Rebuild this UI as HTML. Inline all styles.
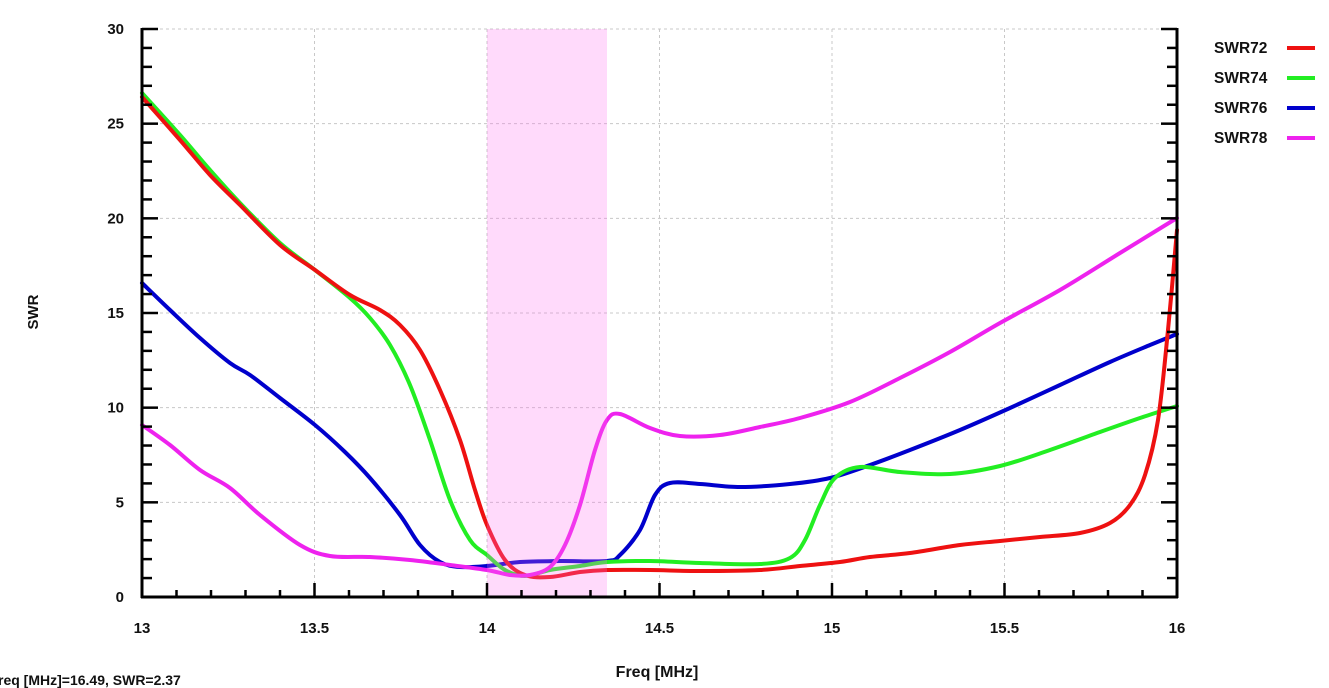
<!DOCTYPE html>
<html><head><meta charset="utf-8"><style>
html,body{margin:0;padding:0;background:#fff;width:1329px;height:688px;overflow:hidden}
text{font-family:"Liberation Sans",sans-serif;font-weight:bold;fill:#111}
</style></head><body>
<svg id="s" width="1329" height="688" xmlns="http://www.w3.org/2000/svg">
<g id="grid" stroke="#c8c8c8" stroke-width="1" stroke-dasharray="3,3"></g>
<g id="curves" fill="none" stroke-width="4" stroke-linejoin="round" stroke-linecap="round"></g>
<rect x="487" y="29" width="120" height="568" fill="#ff70ee" fill-opacity="0.26"/>
<g id="axes" stroke="#000" stroke-width="3"></g>
<g id="labels" font-size="15"></g>
<text x="38" y="312" font-size="15" transform="rotate(-90 38 312)" text-anchor="middle">SWR</text>
<text x="657" y="677" font-size="16" text-anchor="middle">Freq [MHz]</text>
<text x="-2" y="685" font-size="14">req [MHz]=16.49, SWR=2.37</text>
<g font-size="15.5">
<text x="1214" y="53">SWR72</text><text x="1214" y="83">SWR74</text><text x="1214" y="113">SWR76</text><text x="1214" y="143">SWR78</text>
</g>
<g stroke-width="4">
<line x1="1287" y1="48" x2="1315" y2="48" stroke="#ee1111"/>
<line x1="1287" y1="78" x2="1315" y2="78" stroke="#22ee22"/>
<line x1="1287" y1="108" x2="1315" y2="108" stroke="#0000cc"/>
<line x1="1287" y1="138" x2="1315" y2="138" stroke="#ee22ee"/>
</g>
</svg>
<script>
var NS="http://www.w3.org/2000/svg";
function el(p,t,a){var e=document.createElementNS(NS,t);for(var k in a)e.setAttribute(k,a[k]);document.getElementById(p).appendChild(e);return e;}
var X0=142,X1=1177,Y0=597,Y1=29;
function xp(f){return X0+(f-13)/3*(X1-X0);}
function yp(v){return Y0-v/30*(Y0-Y1);}
for(var v=5;v<=30;v+=5)el("grid","line",{x1:X0,x2:X1,y1:yp(v),y2:yp(v)});
for(var f=13.5;f<16;f+=0.5)el("grid","line",{x1:xp(f),x2:xp(f),y1:Y1,y2:Y0});
el("axes","line",{x1:X0,x2:X0,y1:Y1-1,y2:Y0+1});
el("axes","line",{x1:X1,x2:X1,y1:Y1-1,y2:Y0+1});
el("axes","line",{x1:X0-1,x2:X1+1,y1:Y0,y2:Y0});
for(var v=0;v<=30;v++){var L=(v%5==0)?16:10;var y=yp(v);
 el("axes","line",{x1:X0,x2:X0+L,y1:y,y2:y,"stroke-width":2.5});
 el("axes","line",{x1:X1,x2:X1-L,y1:y,y2:y,"stroke-width":2.5});
 if(v%5==0){var t=el("labels","text",{x:124,y:y+5,"text-anchor":"end"});t.textContent=v;}}
for(var i=0;i<=30;i++){var f=13+i*0.1;var x=xp(f);var L=(i%5==0)?14:7;
 el("axes","line",{x1:x,x2:x,y1:Y0,y2:Y0-L,"stroke-width":2.5});
 if(i%5==0){var t=el("labels","text",{x:x,y:633,"text-anchor":"middle"});t.textContent=(Math.round(f*10)/10).toString();}}
function path(pts){var d="M"+pts[0][0]+","+pts[0][1];
 for(var i=0;i<pts.length-1;i++){var p0=pts[Math.max(0,i-1)],p1=pts[i],p2=pts[i+1],p3=pts[Math.min(pts.length-1,i+2)];
 d+=" C"+(p1[0]+(p2[0]-p0[0])/6)+","+(p1[1]+(p2[1]-p0[1])/6)+" "+(p2[0]-(p3[0]-p1[0])/6)+","+(p2[1]-(p3[1]-p1[1])/6)+" "+p2[0]+","+p2[1];}
 return d;}
var S={
"#0000cc":[[142,283],[170,310],[200,338],[230,363],[250,375],[280,398],[315,425],[345,452],[370,478],[400,515],[420,545],[440,562],[460,567],[487,566],[520,562],[560,561],[607,561],[620,555],[640,530],[655,495],[670,483],[700,484],[740,487],[790,484],[830,478],[870,465],[910,450],[960,430],[1010,408],[1060,385],[1110,362],[1150,345],[1177,334]],
"#22ee22":[[142,93],[180,135],[210,170],[240,203],[280,243],[315,270],[350,298],[370,318],[390,345],[410,385],[430,440],[450,500],[470,540],[487,555],[505,570],[525,576],[550,570],[580,566],[607,562],[650,561],[700,563],[760,564],[790,558],[805,540],[820,505],[835,478],[860,467],[900,472],[950,474],[1000,466],[1050,450],[1100,432],[1140,418],[1177,406]],
"#ee1111":[[142,97],[180,140],[210,175],[240,205],[280,245],[315,270],[350,295],[380,310],[400,325],[420,350],[440,390],[460,440],[475,490],[487,525],[505,560],[525,575],[550,577],[580,572],[607,570],[650,570],[700,571],[760,570],[800,566],[840,562],[870,557],[910,553],[960,545],[1000,541],[1040,537],[1080,533],[1110,523],[1130,505],[1145,475],[1158,420],[1168,330],[1177,230]],
"#ee22ee":[[142,425],[170,445],[200,470],[230,488],[260,515],[300,545],[330,556],[370,557],[410,560],[450,565],[487,570],[510,575],[530,575],[550,567],[565,545],[580,505],[595,450],[607,420],[620,414],[650,428],[680,436],[720,435],[760,427],[800,418],[850,402],[900,378],[950,352],[1000,323],[1060,290],[1120,253],[1177,218]]};
for(var c in S)el("curves","path",{d:path(S[c]),stroke:c});
</script>
</body></html>
